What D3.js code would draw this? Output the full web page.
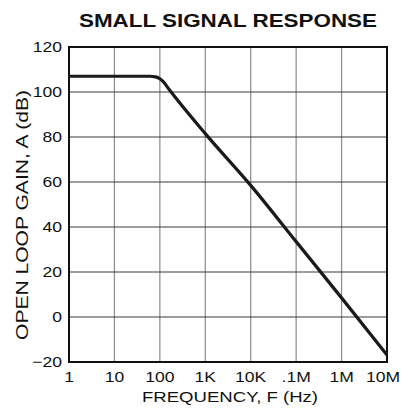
<!DOCTYPE html>
<html>
<head>
<meta charset="utf-8">
<script src="https://cdn.jsdelivr.net/npm/d3@7"></script>
<style>
  body { margin: 0; background: #fff; }
  svg { display: block; }
  text { font-family: "Liberation Sans", Arial, sans-serif; fill: #111; }
</style>
</head>
<body>
<div id="chart"></div>
<script>
// curve values
let freqs = [1, 10, 60, 80, 100, 120, 150, 1e3, 1e4, 1e5, 1e6, 1e7];
let gains = [107, 107, 107, 106.7, 105.9, 104.5, 101.9, 81.5, 58.5, 33.5, 8.5, -16.9];

let xTicks = [1, 10, 100, 1e3, 1e4, 1e5, 1e6, 1e7];
let xTickLabels = ["1", "10", "100", "1K", "10K", ".1M", "1M", "10M"];
let yTicks = [-20, 0, 20, 40, 60, 80, 100, 120];
let yTickLabels = ["\u221220", "0", "20", "40", "60", "80", "100", "120"];

let W = 402, H = 409;
let margin = {top: 47, right: 15, bottom: 47, left: 69};
let width = W - margin.left - margin.right;
let height = H - margin.top - margin.bottom;

// the source lettering is a bit wider than Arial
let stretch = 1.17;

let svg = d3.select("#chart").append("svg")
    .attr("width", W)
    .attr("height", H);

let g = svg.append("g")
    .attr("transform", `translate(${margin.left},${margin.top})`);

let x = d3.scaleLog().domain([1, 1e7]).range([0, width]);
let y = d3.scaleLinear().domain([-20, 120]).range([height, 0]);

// grid: vertical gray, horizontal darker
g.append("g")
    .selectAll("line")
    .data(xTicks.slice(1, -1))
    .enter().append("line")
    .attr("x1", d => x(d)).attr("x2", d => x(d))
    .attr("y1", 0).attr("y2", height)
    .attr("stroke", "#8a8a8a")
    .attr("stroke-width", 1.2);

g.append("g")
    .selectAll("line")
    .data(yTicks.slice(1, -1))
    .enter().append("line")
    .attr("x1", 0).attr("x2", width)
    .attr("y1", d => y(d)).attr("y2", d => y(d))
    .attr("stroke", "#3a3a3a")
    .attr("stroke-width", 1);

// frame
g.append("rect")
    .attr("width", width)
    .attr("height", height)
    .attr("fill", "none")
    .attr("stroke", "#111")
    .attr("stroke-width", 2);

// response curve
let pts = freqs.map((f, i) => [f, gains[i]]);
let line = d3.line()
    .x(d => x(d[0]))
    .y(d => y(d[1]))
    .curve(d3.curveMonotoneX);

g.append("path")
    .datum(pts)
    .attr("d", line)
    .attr("fill", "none")
    .attr("stroke", "#1a1a1a")
    .attr("stroke-width", 3.2)
    .attr("stroke-linejoin", "round");

// tick labels
g.append("g")
    .selectAll("text")
    .data(yTicks)
    .enter().append("text")
    .attr("transform", d => `translate(-7,${y(d)}) scale(${stretch},1)`)
    .attr("dy", "0.36em")
    .attr("text-anchor", "end")
    .style("font-size", "15px")
    .text((d, i) => yTickLabels[i]);

// last label would run off the right edge, nudge it in a bit
g.append("g")
    .selectAll("text")
    .data(xTicks)
    .enter().append("text")
    .attr("transform", (d, i) => {
        let px = x(d) - (i === xTicks.length - 1 ? 4 : 0);
        return `translate(${px},${height + 20}) scale(${stretch},1)`;
    })
    .attr("text-anchor", "middle")
    .style("font-size", "15px")
    .text((d, i) => xTickLabels[i]);

// titles
svg.append("text")
    .attr("x", margin.left + width / 2)
    .attr("y", 27)
    .attr("text-anchor", "middle")
    .attr("textLength", 298)
    .attr("lengthAdjust", "spacingAndGlyphs")
    .style("font-size", "17.5px")
    .style("font-weight", "bold")
    .text("SMALL SIGNAL RESPONSE");

svg.append("text")
    .attr("x", 230)
    .attr("y", 402)
    .attr("text-anchor", "middle")
    .attr("textLength", 176)
    .attr("lengthAdjust", "spacingAndGlyphs")
    .style("font-size", "15px")
    .text("FREQUENCY, F (Hz)");

svg.append("text")
    .attr("transform", `translate(28, 215) rotate(-90)`)
    .attr("text-anchor", "middle")
    .attr("textLength", 250)
    .attr("lengthAdjust", "spacingAndGlyphs")
    .style("font-size", "16.5px")
    .text("OPEN LOOP GAIN, A (dB)");
</script>
</body>
</html>
